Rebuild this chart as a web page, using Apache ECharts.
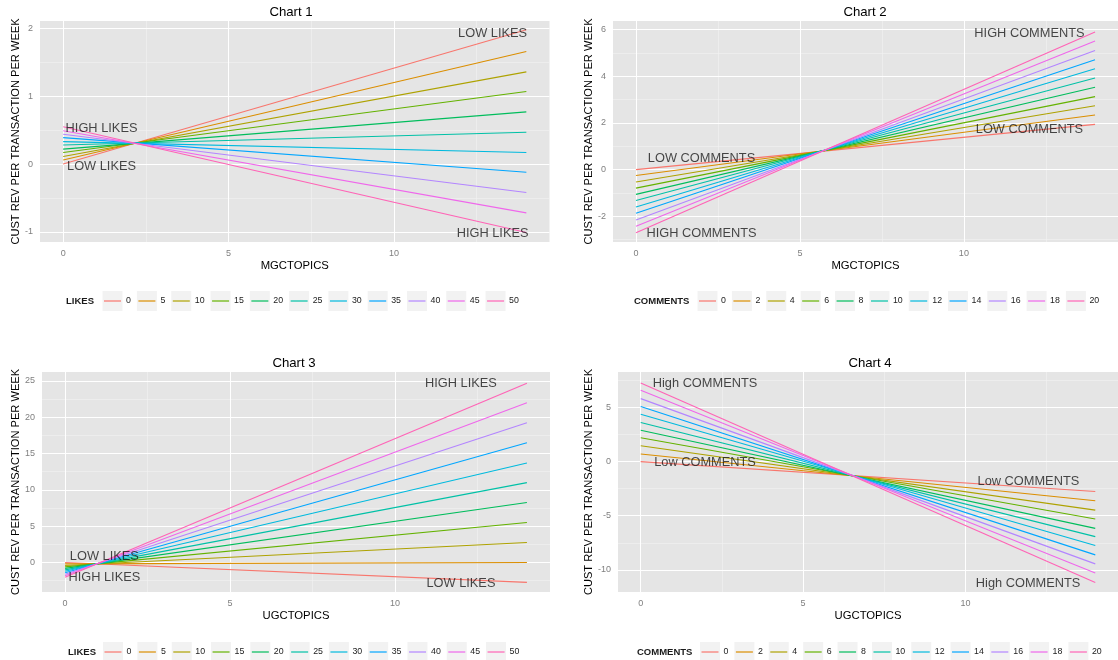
<!DOCTYPE html>
<html>
<head>
<meta charset="utf-8">
<script src="https://cdn.jsdelivr.net/npm/echarts@6/dist/echarts.min.js"></script>
<style>
html, body { margin: 0; padding: 0; background: #fff; }
#main { width: 1118px; height: 660px; }
</style>
</head>
<body>
<div id="main"></div>
<script>
// legend levels
const likes = ['0', '5', '10', '15', '20', '25', '30', '35', '40', '45', '50'];
const comments = ['0', '2', '4', '6', '8', '10', '12', '14', '16', '18', '20'];
const colors = ['#F8766D', '#DB8E00', '#AEA200', '#64B200', '#00BD5C', '#00C1A7',
  '#00BADE', '#00A6FF', '#B385FF', '#EF67EB', '#FF63B6'];

// x range of every line
const xFrom = 0, xTo = 14;

// chart 1 : MGCTOPICS x LIKES
const c1Start = [0.00, 0.06, 0.11, 0.17, 0.22, 0.28, 0.33, 0.39, 0.44, 0.49, 0.55];
const c1End = [1.98, 1.66, 1.36, 1.07, 0.77, 0.47, 0.17, -0.12, -0.42, -0.72, -1.01];
// chart 2 : MGCTOPICS x COMMENTS
const c2Start = [0.00, -0.25, -0.53, -0.79, -1.06, -1.32, -1.60, -1.87, -2.16, -2.43, -2.70];
const c2End = [1.94, 2.34, 2.74, 3.13, 3.53, 3.93, 4.32, 4.71, 5.11, 5.51, 5.90];
// chart 3 : UGCTOPICS x LIKES
const c3Start = [0.00, -0.20, -0.41, -0.61, -0.82, -1.02, -1.22, -1.43, -1.63, -1.84, -2.04];
const c3End = [-2.75, 0.00, 2.75, 5.50, 8.25, 11.00, 13.70, 16.50, 19.25, 22.00, 24.70];
// chart 4 : UGCTOPICS x COMMENTS
const c4Start = [0.00, 0.70, 1.47, 2.20, 2.90, 3.62, 4.38, 5.10, 5.82, 6.60, 7.27];
const c4End = [-2.76, -3.62, -4.48, -5.31, -6.17, -6.93, -7.76, -8.62, -9.45, -10.30, -11.17];

// ticks / grid lines
const xMajor = [0, 5, 10];
const xMinor = [2.5, 7.5, 12.5];
const c1YMajor = [-1, 0, 1, 2];
const c1YMinor = [-0.5, 0.5, 1.5];
const c2YMajor = [-2, 0, 2, 4, 6];
const c2YMinor = [-3, -1, 1, 3, 5];
const c3YMajor = [0, 5, 10, 15, 20, 25];
const c3YMinor = [-2.5, 2.5, 7.5, 12.5, 17.5, 22.5];
const c4YMajor = [-10, -5, 0, 5];
const c4YMinor = [-7.5, -2.5, 2.5, 7.5];

// text annotations
const c1NoteX = [12.98, 12.98, 1.16, 1.16];
const c1NoteY = [1.93, -1.02, 0.53, -0.03];
const c1NoteText = ['LOW LIKES', 'HIGH LIKES', 'HIGH LIKES', 'LOW LIKES'];
const c2NoteX = [12.0, 12.0, 2.0, 2.0];
const c2NoteY = [5.83, 1.73, 0.47, -2.74];
const c2NoteText = ['HIGH COMMENTS', 'LOW COMMENTS', 'LOW COMMENTS', 'HIGH COMMENTS'];
const c3NoteX = [12.0, 12.0, 1.19, 1.19];
const c3NoteY = [24.64, -2.83, 0.82, -2.06];
const c3NoteText = ['HIGH LIKES', 'LOW LIKES', 'LOW LIKES', 'HIGH LIKES'];
const c4NoteX = [1.98, 1.98, 11.94, 11.93];
const c4NoteY = [7.21, -0.11, -1.86, -11.22];
const c4NoteText = ['High COMMENTS', 'Low COMMENTS', 'Low COMMENTS', 'High COMMENTS'];

const FONT = "'Liberation Sans', Arial, sans-serif";

const panels = [
  { title: 'Chart 1', titleX: 291, titleY: 6, left: 40, top: 21, width: 509.5, height: 221,
    xName: 'MGCTOPICS', yMin: -1.15, yMax: 2.11, yNameGap: 17, key: 'LIKES', levels: likes,
    start: c1Start, end: c1End, yMajor: c1YMajor, yMinor: c1YMinor,
    noteX: c1NoteX, noteY: c1NoteY, noteText: c1NoteText, keyLeft: 66, legLeft: 102.5, legTop: 291 },
  { title: 'Chart 2', titleX: 865, titleY: 6, left: 613, top: 21, width: 508, height: 221,
    xName: 'MGCTOPICS', yMin: -3.1, yMax: 6.37, yNameGap: 18, key: 'COMMENTS', levels: comments,
    start: c2Start, end: c2End, yMajor: c2YMajor, yMinor: c2YMinor,
    noteX: c2NoteX, noteY: c2NoteY, noteText: c2NoteText, keyLeft: 634, legLeft: 697.5, legTop: 291 },
  { title: 'Chart 3', titleX: 294, titleY: 357, left: 42, top: 372, width: 508, height: 220,
    xName: 'UGCTOPICS', yMin: -4.07, yMax: 26.24, yNameGap: 19.5, key: 'LIKES', levels: likes,
    start: c3Start, end: c3End, yMajor: c3YMajor, yMinor: c3YMinor,
    noteX: c3NoteX, noteY: c3NoteY, noteText: c3NoteText, keyLeft: 68, legLeft: 103, legTop: 642 },
  { title: 'Chart 4', titleX: 870, titleY: 357, left: 618, top: 372, width: 508, height: 220,
    xName: 'UGCTOPICS', yMin: -12.05, yMax: 8.28, yNameGap: 23, key: 'COMMENTS', levels: comments,
    start: c4Start, end: c4End, yMajor: c4YMajor, yMinor: c4YMinor,
    noteX: c4NoteX, noteY: c4NoteY, noteText: c4NoteText, keyLeft: 637, legLeft: 700, legTop: 642 }
];

const grids = [], xAxes = [], yAxes = [], series = [], legends = [], titles = [];
const majorLine = { color: '#ffffff', width: 1, type: 'solid' };
const minorLine = { color: '#f2f2f2', width: 0.6, type: 'solid' };
const legendFmt = name => name.split('|')[1];

panels.forEach((p, i) => {
  grids.push({ left: p.left, top: p.top, width: p.width, height: p.height,
    show: true, backgroundColor: '#e5e5e5', borderWidth: 0 });

  xAxes.push({
    gridIndex: i, type: 'value', min: -0.7, max: 14.7,
    name: p.xName, nameLocation: 'middle', nameGap: 18,
    nameTextStyle: { fontSize: 11.3, color: '#000', fontFamily: FONT },
    axisLine: { show: false },
    axisTick: { show: true, length: 4, customValues: xMajor, lineStyle: { color: '#7f7f7f' } },
    axisLabel: { customValues: xMajor, margin: 7, fontSize: 9, color: '#7f7f7f', fontFamily: FONT },
    splitLine: { show: false }
  });
  yAxes.push({
    gridIndex: i, type: 'value', min: p.yMin, max: p.yMax,
    name: 'CUST REV PER TRANSACTION PER WEEK', nameLocation: 'middle', nameGap: p.yNameGap,
    nameTextStyle: { fontSize: 11.1, color: '#000', fontFamily: FONT },
    axisLine: { show: false },
    axisTick: { show: true, length: 4, customValues: p.yMajor, lineStyle: { color: '#7f7f7f' } },
    axisLabel: { customValues: p.yMajor, margin: 7, fontSize: 9, color: '#7f7f7f', fontFamily: FONT },
    splitLine: { show: false }
  });

  // panel grid lines, kept under the data lines
  series.push({
    type: 'line', xAxisIndex: i, yAxisIndex: i, data: [], z: 1, silent: true, animation: false,
    markLine: {
      z: 1, silent: true, animation: false, symbol: ['none', 'none'], label: { show: false },
      emphasis: { disabled: true },
      data: [].concat(
        xMinor.map(v => ({ xAxis: v, lineStyle: minorLine })),
        p.yMinor.map(v => ({ yAxis: v, lineStyle: minorLine })),
        xMajor.map(v => ({ xAxis: v, lineStyle: majorLine })),
        p.yMajor.map(v => ({ yAxis: v, lineStyle: majorLine }))
      )
    }
  });

  const names = [];
  p.levels.forEach((lvl, k) => {
    const name = 'c' + (i + 1) + '|' + lvl;
    names.push(name);
    series.push({
      type: 'line', name: name, xAxisIndex: i, yAxisIndex: i, z: 3,
      data: [[xFrom, p.start[k]], [xTo, p.end[k]]],
      symbol: 'none', showSymbol: false, animation: false,
      itemStyle: { color: colors[k] },
      lineStyle: { color: colors[k], width: 1.1 },
      emphasis: { disabled: true }
    });
  });

  series.push({
    type: 'scatter', xAxisIndex: i, yAxisIndex: i, z: 5, silent: true, animation: false,
    symbolSize: 0, itemStyle: { color: 'rgba(0,0,0,0)' },
    data: p.noteText.map((t, k) => [p.noteX[k], p.noteY[k], t]),
    label: { show: true, position: 'inside', formatter: q => q.value[2],
      fontSize: 12.8, color: '#1a1a1a', fontFamily: FONT }
  });

  titles.push({ text: p.title, left: p.titleX, top: p.titleY, textAlign: 'center', padding: 0,
    textStyle: { fontSize: 13.2, fontWeight: 'normal', color: '#000', fontFamily: FONT } });
  titles.push({ text: p.key, left: p.keyLeft, top: p.legTop + 5, padding: 0,
    textStyle: { fontSize: 9.5, fontWeight: 'bold', color: '#1a1a1a', fontFamily: FONT, lineHeight: 10 } });

  // key boxes
  legends.push({
    data: names, formatter: legendFmt, left: p.legLeft, top: p.legTop, padding: 0,
    orient: 'horizontal', itemGap: 4.5, itemWidth: 20, itemHeight: 20, icon: 'rect',
    selectedMode: false, z: 1,
    itemStyle: { color: '#f2f2f2', borderWidth: 0 },
    textStyle: { fontSize: 8.8, color: 'rgba(0,0,0,0)', lineHeight: 20, fontFamily: FONT }
  });
  // key lines and labels
  legends.push({
    data: names, formatter: legendFmt, left: p.legLeft + 1.5, top: p.legTop, padding: 0,
    orient: 'horizontal', itemGap: 7.5, itemWidth: 17, itemHeight: 1.2, icon: 'rect',
    selectedMode: false, z: 2,
    itemStyle: { borderWidth: 0 },
    textStyle: { fontSize: 8.8, color: '#222', lineHeight: 20, fontFamily: FONT }
  });
});

const chart = echarts.init(document.getElementById('main'), null, { renderer: 'canvas' });
chart.setOption({
  backgroundColor: '#ffffff',
  animation: false,
  title: titles,
  legend: legends,
  grid: grids,
  xAxis: xAxes,
  yAxis: yAxes,
  series: series
});
window.addEventListener('resize', chart.resize);
</script>
</body>
</html>
